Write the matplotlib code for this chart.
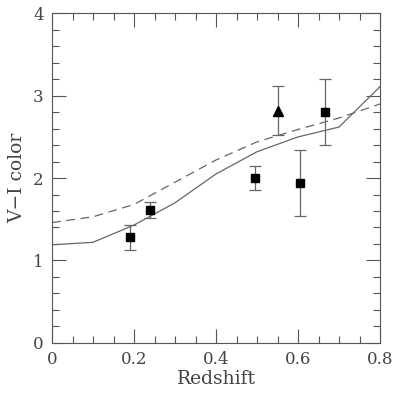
import matplotlib
matplotlib.use('Agg')
import matplotlib.pyplot as plt
from matplotlib.ticker import MultipleLocator

# model curves
z_model = [0.0, 0.1, 0.2, 0.3, 0.4, 0.5, 0.6, 0.7, 0.8]
vi_solid = [1.19, 1.22, 1.43, 1.70, 2.05, 2.32, 2.50, 2.62, 3.11]
vi_dashed = [1.46, 1.53, 1.68, 1.95, 2.22, 2.44, 2.59, 2.73, 2.90]

# observed clusters (squares)
z_sq = [0.19, 0.24, 0.495, 0.605, 0.665]
vi_sq = [1.28, 1.61, 2.00, 1.94, 2.80]
err_sq = [0.15, 0.10, 0.15, 0.40, 0.40]

# triangle point
z_tri = [0.55]
vi_tri = [2.82]
err_tri = [0.30]

plt.rcParams['font.family'] = 'DejaVu Serif'
grey = '#555555'

fig = plt.figure(figsize=(4.0, 3.94), dpi=100)
ax = fig.add_axes([0.13, 0.13, 0.82, 0.836])

ax.plot(z_model, vi_solid, '-', color='#666666', lw=0.9)
ax.plot(z_model, vi_dashed, '--', color='#666666', lw=0.9, dashes=(7, 4.5))

ax.errorbar(z_sq, vi_sq, yerr=err_sq, fmt='s', color='black', ms=6,
            ecolor='#666666', elinewidth=0.9, capsize=4.5, capthick=0.9)
ax.errorbar(z_tri, vi_tri, yerr=err_tri, fmt='^', color='black', ms=6.5,
            ecolor='#666666', elinewidth=0.9, capsize=4.5, capthick=0.9)

ax.set_xlim(0, 0.8)
ax.set_ylim(0, 4)
ax.xaxis.set_minor_locator(MultipleLocator(0.05))
ax.yaxis.set_major_locator(MultipleLocator(1))
ax.yaxis.set_minor_locator(MultipleLocator(0.2))
ax.set_xticks([0, 0.2, 0.4, 0.6, 0.8])
ax.set_xticklabels(['0', '0.2', '0.4', '0.6', '0.8'])

ax.tick_params(which='both', direction='in', top=True, right=True,
               color=grey, labelcolor='#444444', labelsize=12, width=0.8)
ax.tick_params(which='major', length=10, pad=6)
ax.tick_params(which='minor', length=5)
for s in ax.spines.values():
    s.set_color(grey)
    s.set_linewidth(0.8)

ax.set_xlabel('Redshift', fontsize=13.5, color='#444444', labelpad=1)
ax.set_ylabel('V\u2212I color', fontsize=13.5, color='#444444', labelpad=5)

fig.savefig('out.png', dpi=100)
